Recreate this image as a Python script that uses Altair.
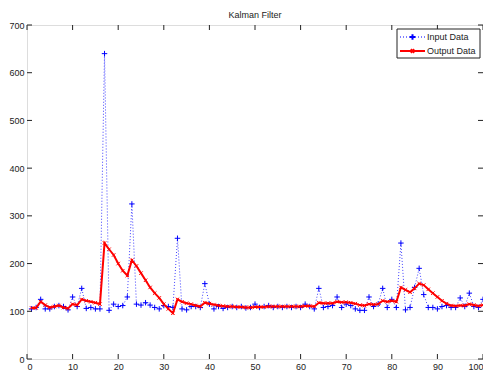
import altair as alt
import pandas as pd

x_vals = list(range(1, 101))
input_data = [105, 108, 125, 105, 105, 110, 112, 110, 103, 130,
              110, 148, 106, 108, 105, 105, 640, 102, 115, 110,
              112, 130, 325, 115, 113, 118, 113, 108, 105, 112,
              110, 108, 253, 105, 103, 110, 110, 108, 158, 115,
              105, 110, 106, 108, 110, 108, 110, 107, 108, 115,
              108, 110, 112, 108, 110, 108, 110, 108, 110, 108,
              115, 110, 105, 148, 108, 110, 112, 130, 108, 115,
              112, 105, 102, 102, 130, 110, 115, 148, 108, 125,
              108, 243, 103, 108, 150, 190, 135, 108, 108, 105,
              110, 112, 108, 108, 128, 110, 138, 110, 108, 125]
output_data = [107, 107, 120, 113, 108, 110, 112, 108, 106, 115,
               113, 125, 122, 120, 118, 115, 243, 230, 218, 200,
               185, 175, 207, 195, 180, 165, 150, 138, 128, 115,
               105, 96, 125, 120, 117, 115, 112, 110, 118, 116,
               114, 112, 111, 110, 110, 109, 109, 108, 108, 109,
               109, 109, 110, 110, 110, 110, 110, 110, 110, 110,
               111, 111, 110, 118, 117, 117, 117, 120, 119, 119,
               118, 116, 113, 112, 115, 114, 115, 122, 120, 122,
               120, 150, 145, 140, 148, 158, 155, 146, 138, 130,
               122, 116, 112, 111, 112, 112, 115, 113, 111, 113]
x_ticks = list(range(0, 101, 10))
y_ticks = list(range(0, 701, 100))
series_names = ["Input Data", "Output Data"]

W, H = 456, 334
FONT = "Liberation Sans"
PLUS = "M-1,0L1,0M0,-1L0,1"
XMARK = "M-1,-1L1,1M-1,1L1,-1"

df = pd.DataFrame({"x": x_vals, "inp": input_data, "out": output_data})
xs = alt.Scale(domain=[0, 100], nice=False)
ys = alt.Scale(domain=[0, 700], nice=False)

xax = alt.Axis(values=x_ticks, ticks=False, domain=False, grid=False, labelFontSize=9,
               labelFont=FONT, labelColor="#222", labelPadding=3, title=None, labelFlush=True)
yax = alt.Axis(values=y_ticks, ticks=False, domain=False, grid=False, labelFontSize=9,
               labelFont=FONT, labelColor="#222", labelPadding=3, title=None)

base = alt.Chart(df)
inp_line = base.mark_line(color="#0000ff", strokeWidth=1, strokeDash=[1, 2], opacity=0.75).encode(
    x=alt.X("x:Q", scale=xs, axis=xax), y=alt.Y("inp:Q", scale=ys, axis=yax))
inp_pts = base.mark_point(shape=PLUS, size=30, color="#0000ff", strokeWidth=1, filled=False, opacity=1).encode(
    x=alt.X("x:Q", scale=xs), y=alt.Y("inp:Q", scale=ys))
out_line = base.mark_line(color="#ff0000", strokeWidth=2).encode(
    x=alt.X("x:Q", scale=xs), y=alt.Y("out:Q", scale=ys))
out_pts = base.mark_point(shape=XMARK, size=12, color="#ff0000", strokeWidth=1, filled=False, opacity=1).encode(
    x=alt.X("x:Q", scale=xs), y=alt.Y("out:Q", scale=ys))

xt = pd.DataFrame({"t": x_ticks})
yt = pd.DataFrame({"t": y_ticks})
xtick_b = alt.Chart(xt).mark_rule(color="#222", strokeWidth=1).encode(
    x=alt.X("t:Q", scale=xs), y=alt.value(H), y2=alt.value(H - 5))
xtick_t = alt.Chart(xt).mark_rule(color="#222", strokeWidth=1).encode(
    x=alt.X("t:Q", scale=xs), y=alt.value(0), y2=alt.value(5))
ytick_l = alt.Chart(yt).mark_rule(color="#222", strokeWidth=1).encode(
    y=alt.Y("t:Q", scale=ys), x=alt.value(0), x2=alt.value(5))
ytick_r = alt.Chart(yt).mark_rule(color="#222", strokeWidth=1).encode(
    y=alt.Y("t:Q", scale=ys), x=alt.value(W), x2=alt.value(W - 5))

# legend
lx0, lx1, ly0, ly1 = 370, 453, 4, 33
one = pd.DataFrame({"a": [0]})
leg_box = alt.Chart(one).mark_rect(fill="white", stroke="#222", strokeWidth=1).encode(
    x=alt.value(lx0), x2=alt.value(lx1), y=alt.value(ly0), y2=alt.value(ly1))
leg_l1 = alt.Chart(one).mark_rule(color="#0000ff", strokeDash=[1, 2], strokeWidth=1).encode(
    x=alt.value(373), x2=alt.value(398), y=alt.value(12))
leg_p1 = alt.Chart(one).mark_point(shape=PLUS, size=30, color="#0000ff", filled=False, opacity=1).encode(
    x=alt.value(385.5), y=alt.value(12))
leg_l2 = alt.Chart(one).mark_rule(color="#ff0000", strokeWidth=2).encode(
    x=alt.value(373), x2=alt.value(398), y=alt.value(26))
leg_p2 = alt.Chart(one).mark_point(shape=XMARK, size=12, color="#ff0000", filled=False, opacity=1).encode(
    x=alt.value(385.5), y=alt.value(26))
leg_txt = alt.Chart(pd.DataFrame({"name": series_names, "yy": [12, 26]})).mark_text(
    align="left", baseline="middle", fontSize=9, font=FONT, color="#222").encode(
    x=alt.value(400), y=alt.Y("yy:Q", scale=None), text="name:N")

chart = alt.layer(
    inp_line, inp_pts, out_line, out_pts,
    xtick_b, xtick_t, ytick_l, ytick_r,
    leg_box, leg_l1, leg_p1, leg_l2, leg_p2, leg_txt
).properties(
    width=W, height=H,
    title=alt.TitleParams("Kalman Filter", fontSize=9, font=FONT, fontWeight="normal", color="#222", offset=1),
    autosize=alt.AutoSizeParams(type="none"),
    padding={"left": 19, "top": 17, "right": 0, "bottom": 12},
).configure_view(stroke="#222", strokeWidth=1).configure(background="white")

chart.save("out.html", embed_options={"renderer": "svg", "actions": False})
